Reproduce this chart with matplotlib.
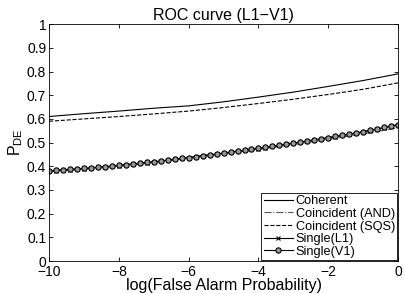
import matplotlib
matplotlib.use('agg')
import matplotlib.pyplot as plt

# log false alarm probability grid (coarse, for the smooth curves)
x_coarse = [-10, -9, -8, -7, -6, -5, -4, -3, -2, -1, 0]
coherent = [0.610, 0.622, 0.633, 0.645, 0.655, 0.672, 0.692, 0.713, 0.737, 0.762, 0.790]
coinc_and = [0.378, 0.388, 0.401, 0.416, 0.434, 0.452, 0.471, 0.492, 0.514, 0.537, 0.562]
coinc_sqs = [0.590, 0.600, 0.610, 0.621, 0.633, 0.648, 0.665, 0.683, 0.703, 0.725, 0.752]

# fine grid for the single-detector curves (markers)
x_fine = [-10.0, -9.8, -9.6, -9.4, -9.2, -9.0, -8.8, -8.6, -8.4, -8.2,
          -8.0, -7.8, -7.6, -7.4, -7.2, -7.0, -6.8, -6.6, -6.4, -6.2,
          -6.0, -5.8, -5.6, -5.4, -5.2, -5.0, -4.8, -4.6, -4.4, -4.2,
          -4.0, -3.8, -3.6, -3.4, -3.2, -3.0, -2.8, -2.6, -2.4, -2.2,
          -2.0, -1.8, -1.6, -1.4, -1.2, -1.0, -0.8, -0.6, -0.4, -0.2, 0.0]
single_l1 = [0.380, 0.382, 0.384, 0.386, 0.388, 0.390, 0.392, 0.395, 0.398, 0.400,
             0.403, 0.406, 0.409, 0.412, 0.415, 0.418, 0.422, 0.426, 0.429, 0.433,
             0.437, 0.440, 0.444, 0.448, 0.451, 0.455, 0.459, 0.463, 0.467, 0.471,
             0.475, 0.479, 0.484, 0.488, 0.493, 0.497, 0.502, 0.506, 0.511, 0.515,
             0.520, 0.525, 0.530, 0.535, 0.540, 0.545, 0.551, 0.557, 0.563, 0.569, 0.575]
single_v1 = [0.381, 0.383, 0.385, 0.387, 0.389, 0.391, 0.393, 0.396, 0.398, 0.401,
             0.404, 0.407, 0.410, 0.413, 0.416, 0.419, 0.422, 0.426, 0.430, 0.434,
             0.437, 0.441, 0.445, 0.448, 0.452, 0.456, 0.460, 0.464, 0.468, 0.472,
             0.476, 0.480, 0.484, 0.489, 0.493, 0.498, 0.502, 0.507, 0.511, 0.516,
             0.521, 0.526, 0.531, 0.536, 0.541, 0.546, 0.552, 0.558, 0.564, 0.570, 0.576]

x_ticks = [-10, -8, -6, -4, -2, 0]
y_ticks = [0, 0.1, 0.2, 0.3, 0.4, 0.5, 0.6, 0.7, 0.8, 0.9, 1]

plt.rcParams['font.family'] = ['Liberation Sans', 'DejaVu Sans']
plt.rcParams['mathtext.default'] = 'regular'

fig = plt.figure(figsize=(4.05, 2.94), dpi=100)
ax = fig.add_axes([0.121, 0.112, 0.862, 0.806])

ax.plot(x_coarse, coherent, '-', color='black', lw=0.8, label='Coherent')
ax.plot(x_coarse, coinc_and, '-.', color='#555555', lw=0.8, label='Coincident (AND)')
ax.plot(x_coarse, coinc_sqs, '--', color='black', lw=0.8, label='Coincident (SQS)')
ax.plot(x_fine, single_l1, '-x', color='black', lw=0.8, ms=3, mew=0.8, label='Single(L1)')
ax.plot(x_fine, single_v1, '-o', color='black', lw=0.8, ms=3.8, mew=0.8,
        mfc='#999999', label='Single(V1)')

ax.set_xlim(-10, 0)
ax.set_ylim(0, 1)
ax.set_xticks(x_ticks)
ax.set_yticks(y_ticks)
ax.set_yticklabels(['%g' % v for v in y_ticks])
ax.set_xticklabels(['\u2212%d' % -v if v < 0 else '%d' % v for v in x_ticks])
ax.tick_params(direction='in', top=True, right=True, labelsize=10, length=3, width=0.6)
ax.tick_params(axis='x', pad=3)
ax.tick_params(axis='y', pad=2)
for s in ax.spines.values():
    s.set_linewidth(0.6)

ax.set_title('ROC curve (L1\u2212V1)', fontsize=11.5, pad=3)
ax.set_xlabel('log(False Alarm Probability)', fontsize=11.5, labelpad=-1)
ax.set_ylabel('P$_{DE}$', fontsize=11.5, labelpad=1)

leg = ax.legend(loc='lower right', fontsize=9.2, handlelength=2.3, handletextpad=0.2,
                borderaxespad=0.05, borderpad=0.2, labelspacing=0.05, fancybox=False,
                framealpha=1, edgecolor='black')
leg.get_frame().set_linewidth(0.6)

plt.savefig('out.png', dpi=100)
plt.close()
